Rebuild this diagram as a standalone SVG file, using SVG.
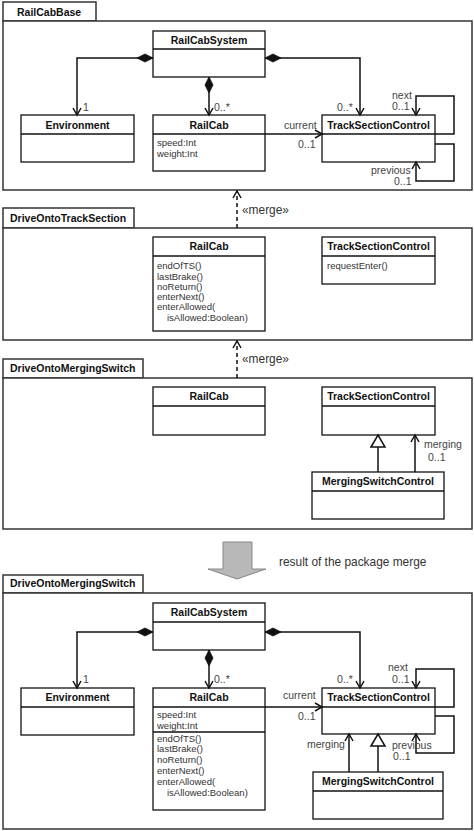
<svg xmlns="http://www.w3.org/2000/svg" width="474" height="831" viewBox="0 0 474 831">
<defs>
<style>
text{font-family:"Liberation Sans",Arial,sans-serif;}
.pkg{fill:#fff;stroke:#333;stroke-width:1.5;}
.cls{fill:#fff;stroke:#111;stroke-width:1.3;}
.div{stroke:#111;stroke-width:1.3;fill:none;}
.t{font-size:10.5px;font-weight:bold;fill:#111;}
.nm{font-size:10.5px;font-weight:bold;fill:#111;text-anchor:middle;}
.at{font-size:9.5px;fill:#333;}
.lb{font-size:10.5px;fill:#444;}
.big{font-size:11.9px;fill:#333;}
.ln{fill:none;stroke:#111;stroke-width:1.5;}
.as{marker-start:url(#dia);marker-end:url(#arr);}
.ar{marker-end:url(#arr);}
.gn{marker-end:url(#tri);}
.mg{fill:none;stroke:#111;stroke-width:1.5;stroke-dasharray:4,3;marker-end:url(#arr);}
</style>
<marker id="arr" markerUnits="userSpaceOnUse" markerWidth="10" markerHeight="10" refX="7" refY="4" orient="auto" overflow="visible"><path d="M0,0 L7,4 L0,8" fill="none" stroke="#111" stroke-width="1.5"/></marker>
<marker id="dia" markerUnits="userSpaceOnUse" markerWidth="18" markerHeight="10" refX="0" refY="4" orient="auto" overflow="visible"><path d="M0,4 L8,0 L16,4 L8,8 Z" fill="#111" stroke="#111" stroke-width="0.8"/></marker>
<marker id="tri" markerUnits="userSpaceOnUse" markerWidth="14" markerHeight="16" refX="12" refY="7" orient="auto" overflow="visible"><path d="M0,0 L12,7 L0,14 Z" fill="#fff" stroke="#111" stroke-width="1.5"/></marker>
</defs>
<rect width="474" height="831" fill="#fff"/>

<!-- Package 1 -->
<g id="pkg-RailCabBase">
<rect class="pkg" x="3" y="2" width="93" height="19"/>
<rect class="pkg" x="3" y="21" width="469" height="169"/>
<text class="t" x="17" y="15.5">RailCabBase</text>
</g>
<g id="p1-RailCabSystem">
<rect class="cls" x="153" y="31" width="112" height="46"/>
<line class="div" x1="153" y1="49" x2="265" y2="49"/>
<text class="nm" x="209" y="43.7">RailCabSystem</text>
</g>
<g id="p1-Environment">
<rect class="cls" x="21" y="115" width="113" height="47"/>
<line class="div" x1="21" y1="134" x2="134" y2="134"/>
<text class="nm" x="77.5" y="128.5">Environment</text>
</g>
<g id="p1-RailCab">
<rect class="cls" x="153" y="115" width="112" height="56"/>
<line class="div" x1="153" y1="134" x2="265" y2="134"/>
<text class="nm" x="209" y="128.5">RailCab</text>
<text class="at" x="157" y="146">speed:Int</text>
<text class="at" x="157" y="156.5">weight:Int</text>
</g>
<g id="p1-TrackSectionControl">
<rect class="cls" x="322" y="115" width="113" height="47"/>
<line class="div" x1="322" y1="134" x2="435" y2="134"/>
<text class="nm" x="378.5" y="128.5">TrackSectionControl</text>
</g>

<!-- Package 2 -->
<g id="pkg-DriveOntoTrackSection">
<rect class="pkg" x="3" y="208" width="131" height="20"/>
<rect class="pkg" x="3" y="228" width="469" height="112"/>
<text class="t" x="10" y="221.5">DriveOntoTrackSection</text>
</g>
<g id="p2-RailCab">
<rect class="cls" x="153" y="237" width="112" height="94"/>
<line class="div" x1="153" y1="256" x2="265" y2="256"/>
<text class="nm" x="209" y="250.2">RailCab</text>
<text class="at" x="157" y="269.2">endOfTS()</text>
<text class="at" x="157" y="279.5">lastBrake()</text>
<text class="at" x="157" y="289.8">noReturn()</text>
<text class="at" x="157" y="300.1">enterNext()</text>
<text class="at" x="157" y="310.4">enterAllowed(</text>
<text class="at" x="167" y="320.8">isAllowed:Boolean)</text>
</g>
<g id="p2-TrackSectionControl">
<rect class="cls" x="322" y="237" width="113" height="47"/>
<line class="div" x1="322" y1="256" x2="435" y2="256"/>
<text class="nm" x="378.5" y="250.2">TrackSectionControl</text>
<text class="at" x="327" y="269.2">requestEnter()</text>
</g>

<!-- Package 3 -->
<g id="pkg-DriveOntoMergingSwitch">
<rect class="pkg" x="3" y="359" width="140" height="19"/>
<rect class="pkg" x="3" y="378" width="469" height="151"/>
<text class="t" x="10" y="372">DriveOntoMergingSwitch</text>
</g>
<g id="p3-RailCab">
<rect class="cls" x="153" y="387" width="112" height="48"/>
<line class="div" x1="153" y1="406" x2="265" y2="406"/>
<text class="nm" x="209" y="400.2">RailCab</text>
</g>
<g id="p3-TrackSectionControl">
<rect class="cls" x="322" y="387" width="113" height="48"/>
<line class="div" x1="322" y1="406" x2="435" y2="406"/>
<text class="nm" x="378.5" y="400.2">TrackSectionControl</text>
</g>
<g id="p3-MergingSwitchControl">
<rect class="cls" x="312" y="472" width="132" height="47"/>
<line class="div" x1="312" y1="491" x2="444" y2="491"/>
<text class="nm" x="378" y="485.2">MergingSwitchControl</text>
</g>

<!-- Result arrow -->
<g id="result-arrow">
<polygon points="223,542 252,542 252,569 266,569 237,579 208,569 223,569" fill="#b8b8b8" stroke="#888" stroke-width="1"/>
<text class="big" x="279" y="565.5">result of the package merge</text>
</g>

<!-- Package 4 -->
<g id="pkg-DriveOntoMergingSwitch-result">
<rect class="pkg" x="3" y="575" width="140" height="18"/>
<rect class="pkg" x="3" y="593" width="469" height="236"/>
<text class="t" x="10" y="587">DriveOntoMergingSwitch</text>
</g>
<g id="p4-RailCabSystem">
<rect class="cls" x="153" y="603" width="112" height="47"/>
<line class="div" x1="153" y1="622" x2="265" y2="622"/>
<text class="nm" x="209" y="616.2">RailCabSystem</text>
</g>
<g id="p4-Environment">
<rect class="cls" x="21" y="688" width="113" height="47"/>
<line class="div" x1="21" y1="707" x2="134" y2="707"/>
<text class="nm" x="77.5" y="701.2">Environment</text>
</g>
<g id="p4-RailCab">
<rect class="cls" x="153" y="688" width="112" height="122"/>
<line class="div" x1="153" y1="707" x2="265" y2="707"/>
<line class="div" x1="153" y1="732" x2="265" y2="732"/>
<text class="nm" x="209" y="701.2">RailCab</text>
<text class="at" x="157" y="718">speed:Int</text>
<text class="at" x="157" y="728.5">weight:Int</text>
<text class="at" x="157" y="741.5">endOfTS()</text>
<text class="at" x="157" y="752.3">lastBrake()</text>
<text class="at" x="157" y="763.1">noReturn()</text>
<text class="at" x="157" y="773.9">enterNext()</text>
<text class="at" x="157" y="784.7">enterAllowed(</text>
<text class="at" x="167" y="795.5">isAllowed:Boolean)</text>
</g>
<g id="p4-TrackSectionControl">
<rect class="cls" x="322" y="688" width="113" height="46"/>
<line class="div" x1="322" y1="707" x2="435" y2="707"/>
<text class="nm" x="378.5" y="701.2">TrackSectionControl</text>
</g>
<g id="p4-MergingSwitchControl">
<rect class="cls" x="313" y="772" width="130" height="47"/>
<line class="div" x1="313" y1="791" x2="443" y2="791"/>
<text class="nm" x="378" y="785.2">MergingSwitchControl</text>
</g>

<!-- Connectors -->
<g id="connectors">
<path class="ln as" d="M153,58 H77 V115"/>
<path class="ln as" d="M209,77 V115"/>
<path class="ln as" d="M265,58 H360 V115"/>
<path class="ln ar" d="M265,134 H322"/>
<path class="ln ar" d="M435,134 H454 V96 H416 V115"/>
<path class="ln ar" d="M435,144 H454 V181 H416 V162"/>
<text class="lb" x="83" y="110.5">1</text>
<text class="lb" x="214" y="110.5">0..*</text>
<text class="lb" x="337" y="110.5">0..*</text>
<text class="lb" x="392" y="98.5">next</text>
<text class="lb" x="392" y="109.5">0..1</text>
<text class="lb" x="284" y="128.5">current</text>
<text class="lb" x="298" y="147.5">0..1</text>
<text class="lb" x="371" y="174">previous</text>
<text class="lb" x="394" y="185">0..1</text>

<path class="mg" d="M237,228 V191"/>
<text class="big" x="242" y="213.5">«merge»</text>
<path class="mg" d="M237,378 V341"/>
<text class="big" x="242" y="363">«merge»</text>

<path class="ln gn" d="M378,472 V435"/>
<path class="ln ar" d="M415,472 V435"/>
<text class="lb" x="424" y="447.5">merging</text>
<text class="lb" x="428" y="461">0..1</text>

<path class="ln as" d="M153,632 H77 V688"/>
<path class="ln as" d="M209,650 V688"/>
<path class="ln as" d="M265,632 H360 V688"/>
<path class="ln ar" d="M265,707 H322"/>
<path class="ln ar" d="M435,707 H454 V669 H416 V688"/>
<path class="ln ar" d="M435,716 H454 V753 H416 V734"/>
<path class="ln ar" d="M349,772 V734"/>
<path class="ln gn" d="M378,772 V734"/>
<text class="lb" x="83" y="682.5">1</text>
<text class="lb" x="214" y="682.5">0..*</text>
<text class="lb" x="337" y="682.5">0..*</text>
<text class="lb" x="388" y="671">next</text>
<text class="lb" x="392" y="682.5">0..1</text>
<text class="lb" x="283" y="699">current</text>
<text class="lb" x="298" y="720">0..1</text>
<text class="lb" x="307" y="747.5">merging</text>
<text class="lb" x="392" y="748.5">previous</text>
<text class="lb" x="393" y="760">0..1</text>
</g>
</svg>
